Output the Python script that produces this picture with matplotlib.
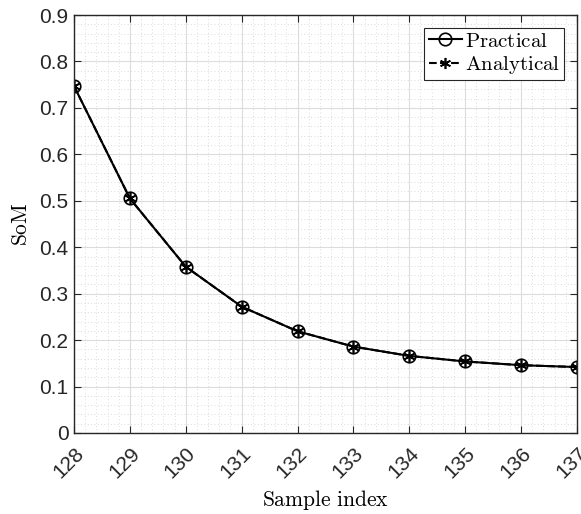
import matplotlib
matplotlib.use("Agg")
import matplotlib.pyplot as plt
from matplotlib.ticker import MultipleLocator, FuncFormatter

# data
sample_idx = [128, 129, 130, 131, 132, 133, 134, 135, 136, 137]
practical = [0.747, 0.505, 0.358, 0.272, 0.219, 0.186, 0.166, 0.154, 0.146, 0.142]
analytical = [0.747, 0.505, 0.358, 0.272, 0.219, 0.186, 0.166, 0.154, 0.146, 0.142]

plt.rcParams['mathtext.fontset'] = 'cm'
plt.rcParams['font.family'] = ['Liberation Sans', 'DejaVu Sans']

fig = plt.figure(figsize=(5.81, 5.14), dpi=100)
ax = fig.add_axes([0.1274, 0.1576, 0.8656, 0.8132])

ax.plot(sample_idx, practical, '-', color='k', lw=1.5, marker='o',
        ms=9, mfc='none', mew=1.2, label=r'$\mathrm{Practical}$')
ax.plot(sample_idx, analytical, '--', color='k', lw=1.5, marker=(6, 2, 0),
        ms=8, mew=1.2, label=r'$\mathrm{Analytical}$')

ax.set_xlim(128, 137)
ax.set_ylim(0, 0.9)
ax.xaxis.set_major_locator(MultipleLocator(1))
ax.xaxis.set_minor_locator(MultipleLocator(0.2))
ax.yaxis.set_major_locator(MultipleLocator(0.1))
ax.yaxis.set_minor_locator(MultipleLocator(0.02))
ax.yaxis.set_major_formatter(FuncFormatter(lambda v, p: '0' if abs(v) < 1e-9 else f'{v:.1f}'))

ax.grid(which='major', color='#dcdcdc', lw=0.8)
ax.grid(which='minor', color='#d0d0d0', lw=0.6, ls=(0, (1, 3)))
ax.set_axisbelow(True)

ax.tick_params(which='both', direction='in', labelsize=15, color='#262626',
               labelcolor='#262626', top=True, right=True)
ax.tick_params(which='minor', length=0)
ax.tick_params(which='major', length=5)
ax.tick_params(axis='x', pad=8)
ax.tick_params(axis='y', pad=4)
for lab in ax.get_xticklabels():
    lab.set_rotation(45)
    lab.set_ha('right')
    lab.set_rotation_mode('anchor')
for s in ax.spines.values():
    s.set_color('#262626')
    s.set_linewidth(1.0)

ax.set_xlabel(r'$\mathrm{Sample\ index}$', fontsize=15.5, labelpad=4)
ax.set_ylabel(r'$\mathrm{SoM}$', fontsize=15.5, labelpad=5)

leg = ax.legend(loc='upper right', fontsize=15, fancybox=False, framealpha=1,
                edgecolor='#262626', handlelength=1.6, handletextpad=0.15,
                borderpad=0.2, labelspacing=0.15, borderaxespad=0.6)
leg.get_frame().set_linewidth(0.8)

fig.savefig('out.png', dpi=100)
